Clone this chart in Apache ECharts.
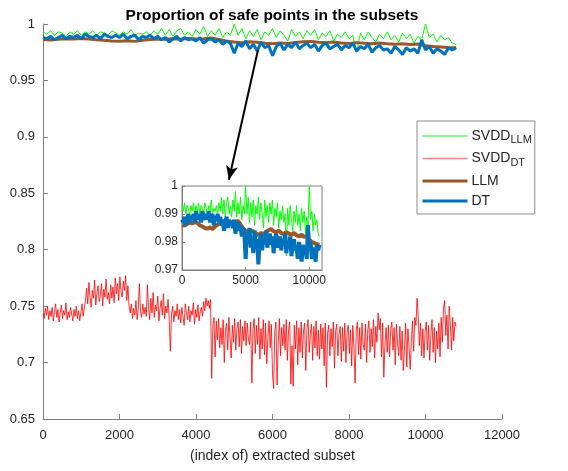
<!DOCTYPE html>
<html><head><meta charset="utf-8">
<script src="https://cdn.jsdelivr.net/npm/echarts@6/dist/echarts.min.js"></script>
<style>html,body{margin:0;padding:0;background:#fff}#c{width:568px;height:471px}</style>
</head><body><div id="c"></div>
<script>
// sample spacing (subset index) of each read-off series
const redStep = 30, greenStep = 100, blueStep = 100, brownStep = 200;
const xTicks = [0, 2000, 4000, 6000, 8000, 10000, 12000];
const yTicks = [0.65, 0.7, 0.75, 0.8, 0.85, 0.9, 0.95, 1];
const insetXTicks = [0, 5000, 10000];
const insetYTicks = [0.97, 0.98, 0.99, 1];

const svddDT = [
0.744,0.739,0.748,0.742,0.750,0.738,0.746,0.741,0.749,0.737,0.745,0.752,0.740,0.747,0.736,0.744,0.751,0.739,0.746,0.742,0.753,0.738,0.745,0.740,0.749,0.743,0.737,0.747,0.741,0.750,
0.739,0.746,0.737,0.744,0.752,0.741,0.748,0.755,0.766,0.752,0.771,0.758,0.749,0.764,0.757,0.773,0.751,0.762,0.768,0.754,0.760,0.770,0.750,0.765,0.758,0.774,0.756,0.762,0.752,0.769,
0.757,0.767,0.753,0.775,0.761,0.770,0.755,0.776,0.763,0.758,0.772,0.764,0.777,0.755,0.768,0.750,0.744,0.752,0.739,0.748,0.742,0.755,0.738,0.747,0.770,0.745,0.740,0.752,0.743,0.749,
0.741,0.769,0.748,0.738,0.757,0.744,0.762,0.740,0.751,0.746,0.759,0.737,0.748,0.755,0.742,0.761,0.739,0.750,0.744,0.756,0.738,0.710,0.743,0.750,0.736,0.746,0.741,0.752,0.738,0.747,
0.735,0.749,0.741,0.733,0.752,0.744,0.738,0.750,0.736,0.746,0.742,0.753,0.734,0.747,0.740,0.751,0.737,0.745,0.749,0.741,0.754,0.746,0.757,0.750,0.755,0.748,0.756,0.686,0.732,0.740,
0.705,0.737,0.720,0.739,0.713,0.731,0.716,0.738,0.700,0.729,0.735,0.711,0.740,0.722,0.704,0.733,0.718,0.739,0.711,0.730,0.736,0.714,0.738,0.708,0.732,0.719,0.737,0.715,0.735,0.721,
0.716,0.736,0.682,0.729,0.739,0.708,0.733,0.716,0.740,0.703,0.730,0.712,0.738,0.707,0.735,0.699,0.722,0.737,0.713,0.734,0.690,0.677,0.728,0.736,0.680,0.718,0.739,0.706,0.731,0.715,
0.734,0.711,0.738,0.702,0.729,0.736,0.681,0.715,0.679,0.733,0.712,0.737,0.698,0.731,0.709,0.736,0.704,0.728,0.735,0.693,0.730,0.738,0.709,0.726,0.734,0.702,0.732,0.713,0.737,0.706,
0.729,0.703,0.734,0.712,0.731,0.697,0.735,0.678,0.726,0.733,0.706,0.730,0.714,0.736,0.695,0.728,0.734,0.706,0.725,0.732,0.701,0.731,0.710,0.735,0.700,0.727,0.733,0.708,0.729,0.697,
0.733,0.713,0.682,0.729,0.736,0.707,0.731,0.703,0.735,0.716,0.711,0.734,0.700,0.728,0.737,0.709,0.730,0.714,0.738,0.704,0.732,0.718,0.744,0.729,0.739,0.705,0.735,0.687,0.716,0.731,
0.709,0.733,0.705,0.729,0.736,0.711,0.731,0.698,0.734,0.717,0.706,0.732,0.702,0.728,0.693,0.712,0.735,0.696,0.730,0.714,0.694,0.719,0.737,0.710,0.740,0.733,0.757,0.741,0.715,0.735,
0.706,0.730,0.704,0.727,0.736,0.711,0.733,0.702,0.725,0.738,0.709,0.731,0.700,0.728,0.712,0.735,0.705,0.740,0.718,0.748,0.755,0.724,0.742,0.712,0.750,0.733,0.711,0.740,0.719,0.736,
0.732];

const svddLLM = [
0.993,0.991,0.994,0.990,0.993,0.992,0.989,0.993,0.991,0.994,
0.990,0.993,0.991,0.994,0.990,0.993,0.992,0.990,0.994,0.992,
0.990,0.993,0.991,0.995,0.990,0.992,0.991,0.993,0.990,0.994,
0.991,0.996,0.990,0.995,0.989,0.994,0.996,0.990,0.993,0.989,
0.995,0.991,0.998,0.989,0.994,0.990,0.996,0.988,0.993,0.990,
1.000,0.990,0.996,0.987,0.994,0.989,0.995,0.986,0.993,0.990,
0.996,0.988,0.994,0.990,0.985,0.995,0.989,0.993,0.987,0.994,
0.990,0.995,0.986,0.992,0.989,0.994,0.985,0.991,0.988,0.993,
0.987,0.990,0.975,0.992,0.986,0.993,0.988,0.984,0.991,0.987,
0.993,0.986,0.990,0.984,0.992,0.987,0.991,0.983,0.989,0.986,
1.000,0.988,0.991,0.984,0.990,0.986,0.988,0.983,0.982];

const dt = [
0.988,0.987,0.989,0.986,0.988,0.990,0.987,0.989,0.988,0.990,
0.987,0.991,0.989,0.988,0.990,0.987,0.991,0.989,0.988,0.990,
0.988,0.991,0.987,0.989,0.990,0.986,0.989,0.988,0.990,0.987,
0.989,0.986,0.988,0.984,0.987,0.989,0.985,0.988,0.986,0.987,
0.985,0.988,0.983,0.986,0.987,0.984,0.986,0.982,0.985,0.983,
0.974,0.983,0.980,0.985,0.978,0.982,0.976,0.984,0.979,0.981,
0.972,0.980,0.983,0.977,0.982,0.979,0.984,0.978,0.981,0.983,
0.979,0.982,0.976,0.981,0.983,0.978,0.980,0.982,0.977,0.981,
0.979,0.983,0.976,0.980,0.978,0.982,0.975,0.979,0.981,0.977,
0.978,0.974,0.980,0.977,0.973,0.979,0.976,0.978,0.974,0.986,
0.977,0.980,0.974,0.978,0.976,0.973,0.979,0.977,0.979];

const llm = [
0.9862,0.9858,0.9865,0.9870,0.9866,0.9872,0.9868,0.9860,0.9855,0.9850,
0.9848,0.9852,0.9846,0.9856,0.9862,0.9868,0.9864,0.9870,0.9866,0.9872,
0.9868,0.9870,0.9876,0.9862,0.9848,0.9840,0.9835,0.9842,0.9838,0.9830,
0.9825,0.9832,0.9828,0.9836,0.9842,0.9846,0.9838,0.9835,0.9840,0.9832,
0.9828,0.9835,0.9830,0.9826,0.9832,0.9824,0.9820,0.9826,0.9818,0.9822,
0.9808,0.9800,0.9796,0.9792,0.9790];

const pairs = (vals, step) => vals.map((v, k) => [k * step, v]);

const FONT = 'Liberation Sans, Arial, sans-serif';
const AX = '#808080', TXT = '#262626';
const GREEN = '#00ff00', RED = 'rgba(255,0,0,0.8)', BROWN = '#99582a', BLUE = '#0072bd';

const fmt = v => String(v);
const hideSym = {opacity: 0, color: 'transparent', borderWidth: 0};

const chart = echarts.init(document.getElementById('c'), null, {renderer: 'canvas'});
chart.setOption({
  animation: false,
  backgroundColor: '#fff',
  title: {
    text: 'Proportion of safe points in the subsets',
    left: 267, top: 3, textAlign: 'center',
    textStyle: {fontFamily: FONT, fontSize: 15.5, fontWeight: 'bold', color: '#000'}
  },
  legend: {
    orient: 'vertical', left: 417, top: 121,
    padding: [8, 3, 6, 4], itemGap: 6, itemWidth: 45, itemHeight: 14,
    backgroundColor: '#fff', borderColor: '#8c8c8c', borderWidth: 1, borderRadius: 0,
    selectedMode: false,
    data: [
      {name: 'SVDD_LLM', lineStyle: {width: 1.3, color: '#66f566'}, itemStyle: hideSym},
      {name: 'SVDD_DT', lineStyle: {width: 1.3, color: '#ff8585'}, itemStyle: hideSym},
      {name: 'LLM', lineStyle: {width: 3}, itemStyle: hideSym},
      {name: 'DT', lineStyle: {width: 3}, itemStyle: hideSym}
    ],
    formatter: n => n.startsWith('SVDD_') ? 'SVDD{s|' + n.slice(5) + '}' : n,
    textStyle: {fontFamily: FONT, fontSize: 14, color: TXT, padding: [0, 0, 0, -1],
      rich: {s: {fontFamily: FONT, fontSize: 11, color: TXT, verticalAlign: 'bottom', padding: [8, 0, 0, 0]}}}
  },
  grid: [
    {left: 43, right: 66, top: 24, bottom: 52, containLabel: false},
    {left: 182, width: 140, top: 186, height: 84, show: true, backgroundColor: '#fff', borderColor: AX, borderWidth: 1, z: 5}
  ],
  xAxis: [
    {type: 'value', gridIndex: 0, min: 0, max: 12000, interval: 2000,
     name: '(index of) extracted subset', nameLocation: 'middle', nameGap: 30,
     nameTextStyle: {fontFamily: FONT, fontSize: 14, color: TXT},
     axisLine: {show: true, lineStyle: {color: AX}}, axisTick: {inside: true, length: 5, lineStyle: {color: AX}},
     axisLabel: {formatter: fmt, fontFamily: FONT, fontSize: 13, color: TXT, margin: 10},
     splitLine: {show: false}},
    {type: 'value', gridIndex: 1, min: 0, max: 11000, interval: 5000,
     axisLine: {show: true, lineStyle: {color: AX}}, axisTick: {inside: true, length: 3, lineStyle: {color: AX}},
     axisLabel: {formatter: fmt, fontFamily: FONT, fontSize: 12, color: TXT, margin: 5, showMaxLabel: false},
     splitLine: {show: false}, z: 6}
  ],
  yAxis: [
    {type: 'value', gridIndex: 0, min: 0.65, max: 1, interval: 0.05,
     axisLine: {show: true, lineStyle: {color: AX}}, axisTick: {show: true, inside: true, length: 5, lineStyle: {color: AX}},
     axisLabel: {formatter: v => String(+v.toFixed(2)), fontFamily: FONT, fontSize: 13, color: TXT, margin: 8},
     splitLine: {show: false}},
    {type: 'value', gridIndex: 1, min: 0.97, max: 1, interval: 0.01,
     axisLine: {show: true, lineStyle: {color: AX}}, axisTick: {show: true, inside: true, length: 3, lineStyle: {color: AX}},
     axisLabel: {formatter: v => String(+v.toFixed(2)), fontFamily: FONT, fontSize: 12, color: TXT, margin: 4},
     splitLine: {show: false}, z: 6}
  ],
  series: [
    {name: 'SVDD_LLM', type: 'line', xAxisIndex: 0, yAxisIndex: 0, data: pairs(svddLLM, greenStep),
     symbol: 'none', lineStyle: {color: GREEN, width: 1}, itemStyle: {color: GREEN}, z: 2},
    {name: 'SVDD_DT', type: 'line', xAxisIndex: 0, yAxisIndex: 0, data: pairs(svddDT, redStep),
     symbol: 'none', lineStyle: {color: RED, width: 1}, itemStyle: {color: RED}, z: 2},
    {name: 'LLM', type: 'line', xAxisIndex: 0, yAxisIndex: 0, data: pairs(llm, brownStep),
     symbol: 'none', lineStyle: {color: BROWN, width: 3}, itemStyle: {color: BROWN}, z: 3},
    {name: 'DT', type: 'line', xAxisIndex: 0, yAxisIndex: 0, data: pairs(dt, blueStep),
     symbol: 'none', lineStyle: {color: BLUE, width: 3}, itemStyle: {color: BLUE}, z: 4,
     markLine: {silent: true, symbol: ['none', 'arrow'], symbolSize: [9, 14], animation: false,
       lineStyle: {color: '#000', width: 2, type: 'solid'}, label: {show: false},
       data: [[{coord: [5620, 0.977]}, {coord: [4860, 0.862]}]]}},
    {name: 'SVDD_LLM', type: 'line', xAxisIndex: 1, yAxisIndex: 1, data: pairs(svddLLM, greenStep),
     symbol: 'none', lineStyle: {color: GREEN, width: 1}, itemStyle: {color: GREEN}, z: 7},
    {name: 'LLM', type: 'line', xAxisIndex: 1, yAxisIndex: 1, data: pairs(llm, brownStep),
     symbol: 'none', lineStyle: {color: BROWN, width: 4}, itemStyle: {color: BROWN}, z: 8},
    {name: 'DT', type: 'line', xAxisIndex: 1, yAxisIndex: 1, data: pairs(dt, blueStep),
     symbol: 'none', lineStyle: {color: BLUE, width: 4}, itemStyle: {color: BLUE}, z: 9}
  ]
});
</script></body></html>
